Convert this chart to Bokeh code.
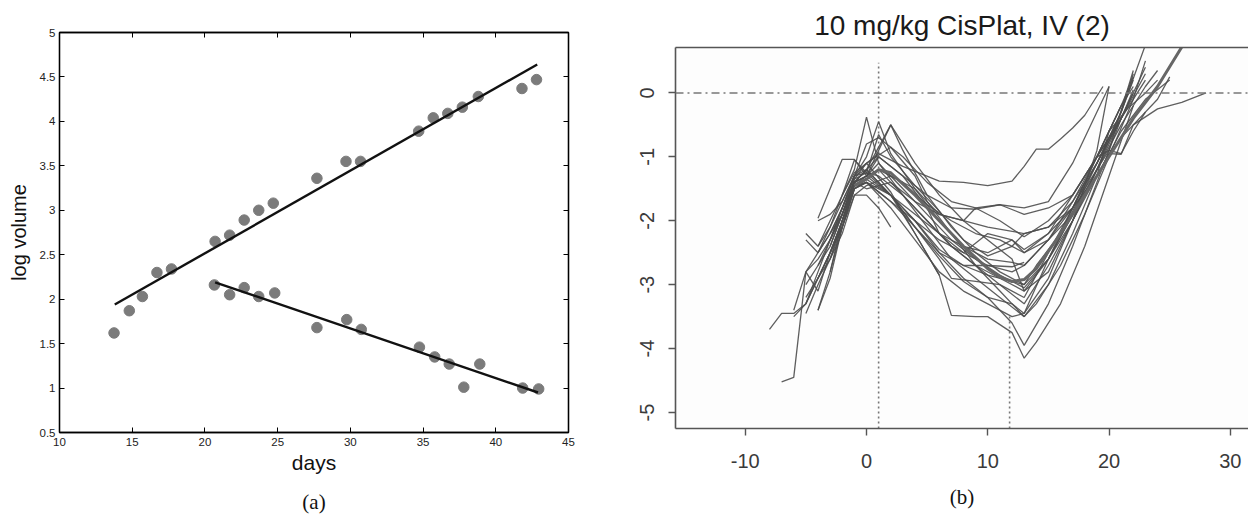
from bokeh.plotting import figure
from bokeh.layouts import row
from bokeh.models import (Range1d, LinearAxis, FixedTicker, Span, Title,
                          NumeralTickFormatter, CustomLabelingPolicy)
from bokeh.embed import file_html
from bokeh.resources import INLINE

# ---------------- Panel (a) data ----------------
up_days = [13.75, 14.8, 15.7, 16.7, 17.7, 20.7, 21.7, 22.7, 23.7, 24.7,
           27.7, 29.7, 30.7, 34.7, 35.7, 36.7, 37.7, 38.8, 41.8, 42.8]
up_logvol = [1.62, 1.87, 2.03, 2.30, 2.34, 2.65, 2.72, 2.89, 3.00, 3.08,
             3.36, 3.55, 3.55, 3.89, 4.04, 4.09, 4.16, 4.28, 4.37, 4.47]
down_days = [20.65, 21.7, 22.7, 23.7, 24.8, 27.7, 29.75, 30.75, 34.75, 35.8,
             36.8, 37.8, 38.9, 41.85, 42.95]
down_logvol = [2.16, 2.05, 2.13, 2.03, 2.07, 1.68, 1.77, 1.66, 1.46, 1.35,
               1.27, 1.01, 1.27, 1.00, 0.99]
up_fit_days = [13.8, 42.85]
up_fit_logvol = [1.94, 4.64]
down_fit_days = [20.7, 42.9]
down_fit_logvol = [2.19, 0.95]
a_xticks = [10, 15, 20, 25, 30, 35, 40, 45]
a_yticks = [0.5, 1, 1.5, 2, 2.5, 3, 3.5, 4, 4.5, 5]

# ---------------- Panel (b) data ----------------
m01_day = [-4, -3, -2, -1, 0, 1, 3, 6, 8, 10, 12, 13, 14, 15, 16, 17, 18, 19.5]
m01_vol = [-2.7, -2.3, -1.8, -1.3, -1.1, -0.95, -1.15, -1.38, -1.4, -1.45, -1.38, -1.15, -0.88, -0.88, -0.72, -0.55, -0.35, 0.1]
m03_day = [-8, -7, -6, -5, -4, -3, -2, -1, 0, 1, 3, 5, 7, 9, 11, 13, 15, 17, 19, 21, 23]
m03_vol = [-3.7, -3.45, -3.45, -3.3, -2.8, -2.3, -1.8, -1.3, -1.25, -1.3, -1.6, -2.0, -2.4, -2.7, -3.0, -3.3, -2.7, -2.0, -1.2, -0.4, 0.4]
m04_day = [-7, -6, -5, -4, -3, -2, -1, 0, 2, 4, 6, 8, 10, 12, 13, 15, 17, 19, 21]
m04_vol = [-4.52, -4.45, -2.8, -2.5, -2.2, -1.9, -1.45, -1.35, -1.6, -2.0, -2.5, -2.9, -3.2, -3.6, -3.95, -3.3, -2.4, -1.4, -0.4]
m05_day = [-3, -2, -1, 0, 2, 4, 6, 7, 9, 10, 12, 13, 14, 16, 18, 20, 22]
m05_vol = [-2.4, -1.9, -1.35, -1.1, -1.55, -2.2, -2.85, -3.48, -3.5, -3.5, -3.75, -4.15, -3.9, -3.3, -2.4, -1.3, -0.2]
m06_day = [-5, -4, -3, -2, -1, 0, 2, 4, 6, 8, 10, 12, 13, 15, 17, 19, 20]
m06_vol = [-3.45, -3.0, -2.6, -2.0, -1.45, -1.4, -1.7, -2.1, -2.55, -2.95, -3.2, -3.3, -3.45, -2.9, -2.0, -0.9, 0.1]
m07_day = [-5, -4, -3, -2, -1, 0, 1, 3, 5, 7, 9, 11, 13, 15, 17, 19, 21, 23, 25]
m07_vol = [-2.8, -2.6, -2.3, -1.9, -1.4, -1.3, -1.1, -1.5, -1.9, -2.3, -2.6, -2.85, -3.05, -2.6, -1.9, -1.3, -0.6, -0.1, 0.2]
m08_day = [-4, -3, -2, -1, 0, 2, 4, 6, 8, 10, 12, 13, 14, 16, 18, 20, 22]
m08_vol = [-3.4, -2.8, -2.0, -1.4, -1.2, -1.6, -2.1, -2.5, -2.7, -2.85, -2.95, -3.0, -2.7, -2.2, -1.5, -0.9, 0.35]
m09_day = [-3, -2, -1, 0, 1, 2, 4, 6, 8, 10, 12, 13, 15, 17, 19, 21, 23]
m09_vol = [-2.2, -1.8, -1.3, -1.0, -0.45, -0.95, -1.5, -2.0, -2.4, -2.6, -2.65, -2.7, -2.3, -1.7, -1.0, -0.4, 0.2]
m10_day = [-2, -1, 0, 2, 4, 6, 8, 10, 12, 13]
m10_vol = [-1.9, -1.35, -1.25, -1.6, -2.0, -2.45, -2.7, -2.7, -2.72, -2.65]
m11_day = [-5, -4, -3, -2, -1, 0, 2, 3, 5, 7, 9, 11, 13, 15, 17, 19, 21, 22, 24, 25]
m11_vol = [-3.3, -2.9, -2.5, -2.0, -1.45, -1.3, -0.5, -0.9, -1.6, -2.1, -2.5, -2.8, -3.0, -2.6, -2.0, -1.3, -0.7, -0.5, -0.1, 0.25]
m12_day = [-4, -3, -2, -1, 0, 1, 3, 5, 7, 9, 11, 13, 15, 17, 19, 20]
m12_vol = [-2.0, -1.9, -1.7, -1.3, -0.8, -0.7, -1.0, -1.4, -1.7, -1.8, -1.75, -1.8, -1.7, -1.1, -0.3, 0.1]
m13_day = [-3, -2, -1, 0, 1, 3, 5, 7, 9, 11, 13, 15, 17, 19, 21, 22]
m13_vol = [-2.3, -1.9, -1.4, -1.3, -1.0, -1.3, -1.6, -1.8, -1.82, -1.75, -1.9, -1.8, -1.6, -1.0, -0.2, 0.1]
m14_day = [-4, -3, -2, -1, 0, 2, 4, 6, 8, 10, 13, 15, 17, 19, 21, 23]
m14_vol = [-2.5, -2.2, -1.8, -1.4, -1.5, -1.4, -1.7, -1.9, -2.0, -2.1, -2.2, -2.1, -1.7, -1.1, -0.4, 0.3]
m15_day = [-5, -4, -3, -2, -1, 0, 2, 4, 6, 8, 10, 12, 13, 15, 17, 19, 20, 21, 22, 23]
m15_vol = [-3.2, -2.9, -2.5, -2.1, -1.5, -1.4, -1.7, -2.0, -2.3, -2.5, -2.2, -2.3, -2.45, -2.2, -1.6, -1.0, -0.9, -0.95, -0.6, -0.3]
m16_day = [-3, -2, -1, 0, 2, 4, 6, 8, 10, 12, 13, 15, 17, 19, 20, 21, 22, 24, 26, 28]
m16_vol = [-2.6, -2.1, -1.5, -1.4, -1.6, -1.9, -2.2, -2.4, -2.5, -2.3, -2.5, -2.2, -1.8, -1.3, -0.95, -0.96, -0.5, -0.25, -0.15, 0.0]
m17_day = [-4, -3, -2, -1, 0, 1, 2]
m17_vol = [-2.9, -2.6, -2.2, -1.6, -1.6, -1.8, -2.1]
m18_day = [-5, -4, -3, -2, -1, 0, 2, 4, 6]
m18_vol = [-3.0, -2.7, -2.4, -1.9, -1.4, -1.3, -1.6, -2.2, -2.85]
m19_day = [-3, -2, -1, 0, 2, 4, 6, 8, 10, 12, 13, 15, 17, 19, 21, 23]
m19_vol = [-2.5, -2.0, -1.4, -1.2, -0.5, -1.1, -1.6, -2.0, -2.3, -2.6, -3.1, -2.6, -1.9, -1.1, -0.3, 0.75]
m20_day = [-4, -3, -2, -1, 0, 1, 3, 5, 7, 9, 11, 13, 15, 17, 19, 21, 22]
m20_vol = [-2.4, -2.1, -1.6, -1.2, -0.38, -1.1, -1.6, -2.0, -2.4, -2.7, -2.9, -3.1, -2.8, -2.0, -1.2, -0.3, 0.3]
m21_day = [-4, -3, -2, -1, 0, 1, 3, 5, 7, 9, 11, 13, 15, 17, 19, 20, 21]
m21_vol = [-1.96, -1.5, -1.04, -1.04, -1.3, -1.2, -1.6, -2.1, -2.6, -2.9, -3.2, -3.5, -3.0, -2.2, -1.3, -0.6, -0.2]
m22_day = [-6, -5, -4, -3, -2, -1, 0, 2, 4, 6, 8, 10, 12, 13, 15, 17, 19, 21, 22]
m22_vol = [-3.4, -2.8, -3.1, -2.5, -2.0, -1.5, -1.4, -1.8, -2.3, -2.8, -3.1, -3.3, -3.5, -3.45, -2.6, -1.8, -1.0, -0.2, 0.25]
m23_day = [-5, -4, -3, -2, -1, 0, 2, 4, 6, 7, 9, 11, 13, 15, 17, 19, 21, 22]
m23_vol = [-2.3, -2.5, -2.1, -1.7, -1.3, -1.2, -1.6, -2.1, -2.6, -2.9, -2.95, -3.0, -3.2, -2.5, -1.8, -1.1, -0.3, 0.2]
m24_day = [-4, -3, -2, -1, 0, 1, 3, 5, 7, 9, 11, 13, 15, 17, 19, 21, 23, 24]
m24_vol = [-3.4, -2.9, -2.1, -1.5, -1.35, -1.2, -1.4, -1.75, -2.0, -2.2, -2.3, -2.5, -2.3, -1.9, -1.2, -0.5, 0.1, 0.35]
m25_day = [-6, -5, -4, -3, -2, -1, 0, 2, 4, 6, 8, 9, 11, 13, 15, 17, 19, 21, 22]
m25_vol = [-3.5, -3.3, -2.9, -2.5, -2.1, -1.6, -1.45, -1.3, -1.5, -1.9, -2.0, -1.8, -2.0, -2.25, -2.0, -1.6, -1.0, -0.4, 0.0]
m26_day = [-5, -4, -3, -2, -1, 0, 2, 4, 5, 7, 9, 11, 13, 14, 16, 18, 20, 22, 23]
m26_vol = [-2.2, -2.4, -2.0, -1.6, -1.25, -1.1, -0.85, -1.3, -1.7, -2.2, -2.7, -3.1, -3.5, -3.3, -2.7, -1.9, -1.0, -0.1, 0.5]
m27_day = [-3, -2, -1, 0, 1, 3, 5, 6, 8, 10, 12, 13, 15, 17, 19, 21, 22]
m27_vol = [-2.8, -2.1, -1.4, -1.2, -1.0, -1.3, -1.8, -2.2, -2.5, -2.7, -2.8, -2.7, -2.3, -1.8, -1.1, -0.4, 0.05]
m28_day = [-2, -1, 0, 1, 2, 4, 6, 8, 10, 12, 13, 15, 17, 18, 20, 21.5, 23, 24]
m28_vol = [-1.6, -1.05, -1.25, -0.65, -1.0, -1.45, -1.85, -2.3, -2.55, -2.4, -2.2, -2.1, -1.8, -1.4, -0.6, -0.25, 0.0, 0.2]
mean_day = [-1, 0, 1, 2, 4, 6, 8, 10, 11, 12, 13, 14, 16, 18, 20, 22, 24, 26.2]
mean_vol = [-1.45, -1.35, -1.2, -1.25, -1.6, -2.0, -2.4, -2.75, -2.88, -2.95, -2.92, -2.75, -2.2, -1.6, -1.0, -0.4, 0.1, 0.78]

ref_days = [1.0, 11.8]          # dotted reference days
ref_tops = [0.47, -3.45]        # how far the dotted lines reach
b_xticks = [-10, 0, 10, 20, 30]
b_xlabels = ["-10", "0", "10", "20", "30"]
b_yticks = [0, -1, -2, -3, -4, -5]
b_ylabels = ["0", "-1", "-2", "-3", "-4", "-5"]

SANS = "Liberation Sans"
SERIF = "Liberation Serif"
NO_LABELS = CustomLabelingPolicy(code="for (const i of indices) indices.unset(i)")

# ---------------- Panel (a) ----------------
pa = figure(width=620, height=529, x_range=Range1d(10, 45), y_range=Range1d(0.5, 5),
            output_backend="svg", toolbar_location=None,
            min_border_left=59, min_border_right=52, min_border_top=32, min_border_bottom=97,
            x_axis_label="days", y_axis_label="log volume")
pa.frame_align = False
pa.grid.visible = False
pa.outline_line_color = "black"
pa.outline_line_width = 1.3
pa.background_fill_color = "white"
pa.border_fill_color = "white"

a_bottom = pa.below[0]
a_left = pa.left[0]
a_top = LinearAxis(major_label_policy=NO_LABELS)
a_right = LinearAxis(major_label_policy=NO_LABELS)
pa.add_layout(a_top, "above")
pa.add_layout(a_right, "right")
for ax in (a_bottom, a_top):
    ax.ticker = FixedTicker(ticks=a_xticks)
for ax in (a_left, a_right):
    ax.ticker = FixedTicker(ticks=a_yticks)
    ax.formatter = NumeralTickFormatter(format="0.[0]")
for ax in (a_bottom, a_top, a_left, a_right):
    ax.major_tick_in = 5
    ax.major_tick_out = 0
    ax.minor_tick_line_color = None
    ax.axis_line_color = "black"
    ax.axis_line_width = 1.3
    ax.major_tick_line_color = "black"
    ax.major_tick_line_width = 1
    ax.major_label_text_font = SANS
    ax.major_label_text_font_size = "11.5px"
    ax.major_label_text_color = "#222222"
for ax in (a_top, a_right):
    ax.major_label_standoff = 0
a_left.major_label_standoff = 4
a_bottom.major_label_standoff = 5
a_left.axis_label_standoff = 7
a_bottom.axis_label_standoff = 2
for ax in (a_bottom, a_left):
    ax.axis_label_text_font = SANS
    ax.axis_label_text_font_style = "normal"
    ax.axis_label_text_color = "#111111"
a_left.axis_label_text_font_size = "20px"
a_bottom.axis_label_text_font_size = "21px"

pa.scatter(up_days, up_logvol, size=10.5, color="#7b7b7b")
pa.scatter(down_days, down_logvol, size=10.5, color="#7b7b7b")
pa.line(up_fit_days, up_fit_logvol, line_width=2.4, color="#111111")
pa.line(down_fit_days, down_fit_logvol, line_width=2.4, color="#111111")

pa.add_layout(Title(text="(a)", align="center", text_font=SERIF, text_font_size="21px",
                    text_font_style="normal", text_color="#111111", standoff=23), "below")

# ---------------- Panel (b) ----------------
pb = figure(width=628, height=529, x_range=Range1d(-15.75, 31.5), y_range=Range1d(-5.25, 0.71),
            output_backend="svg", toolbar_location=None,
            min_border_left=55, min_border_right=0, min_border_top=47, min_border_bottom=101,
            title="10 mg/kg CisPlat, IV (2)")
pb.frame_align = False
pb.grid.visible = False
pb.outline_line_color = None
pb.background_fill_color = "#fdfdfd"
pb.border_fill_color = "white"
pb.title.align = "center"
pb.title.text_font = SANS
pb.title.text_font_size = "28px"
pb.title.text_font_style = "normal"
pb.title.text_color = "#1a1a1a"
pb.title.standoff = 13

b_bottom = pb.below[0]
b_left = pb.left[0]
b_top = LinearAxis(ticker=FixedTicker(ticks=[]), major_label_policy=NO_LABELS)
pb.add_layout(b_top, "above")
b_top.major_label_standoff = 0
b_top.major_tick_in = 0
b_top.major_tick_out = 0
b_top.minor_tick_in = 0
b_top.minor_tick_out = 0
b_top.major_tick_line_color = None
b_top.minor_tick_line_color = None
b_top.axis_line_color = "#555555"
b_top.axis_line_width = 1.6

b_bottom.ticker = FixedTicker(ticks=b_xticks)
b_left.ticker = FixedTicker(ticks=b_yticks)
b_bottom.major_label_overrides = dict(zip(b_xticks, b_xlabels))
b_left.major_label_overrides = dict(zip(b_yticks, b_ylabels))
for ax in (b_bottom, b_left):
    ax.major_tick_in = 0
    ax.major_tick_out = 7
    ax.minor_tick_line_color = None
    ax.axis_line_color = "#555555"
    ax.axis_line_width = 1.6
    ax.major_tick_line_color = "#555555"
    ax.major_tick_line_width = 1.4
    ax.major_label_text_font = SANS
    ax.major_label_text_font_size = "20px"
    ax.major_label_text_color = "#3a3a3a"
b_left.major_label_orientation = "vertical"
b_left.major_label_standoff = 14
b_bottom.major_label_standoff = 18

pb.add_layout(Span(location=0, dimension="width", line_dash="8 4 2 4",
                   line_color="#777777", line_width=1.5))
pb.segment(x0=ref_days, y0=[pb.y_range.start] * len(ref_days), x1=ref_days, y1=ref_tops,
           line_dash="2 3", line_color="#777777", line_width=1.6)

mice = [(m01_day, m01_vol), (m03_day, m03_vol), (m04_day, m04_vol), (m05_day, m05_vol),
        (m06_day, m06_vol), (m07_day, m07_vol), (m08_day, m08_vol), (m09_day, m09_vol),
        (m10_day, m10_vol), (m11_day, m11_vol), (m12_day, m12_vol), (m13_day, m13_vol),
        (m14_day, m14_vol), (m15_day, m15_vol), (m16_day, m16_vol), (m17_day, m17_vol),
        (m18_day, m18_vol), (m19_day, m19_vol), (m20_day, m20_vol), (m21_day, m21_vol),
        (m22_day, m22_vol), (m23_day, m23_vol), (m24_day, m24_vol), (m25_day, m25_vol),
        (m26_day, m26_vol), (m27_day, m27_vol), (m28_day, m28_vol)]
for d, v in mice:
    pb.line(d, v, line_color="#4d4d4d", line_width=1.3, line_alpha=0.9)
pb.line(mean_day, mean_vol, line_color="#666666", line_width=3.0)

pb.add_layout(Title(text="(b)", align="center", offset=-4, text_font=SERIF, text_font_size="21px",
                    text_font_style="normal", text_color="#111111", standoff=25), "below")

layout = row(pa, pb, spacing=0)
open("out.html", "w").write(file_html(layout, INLINE))
